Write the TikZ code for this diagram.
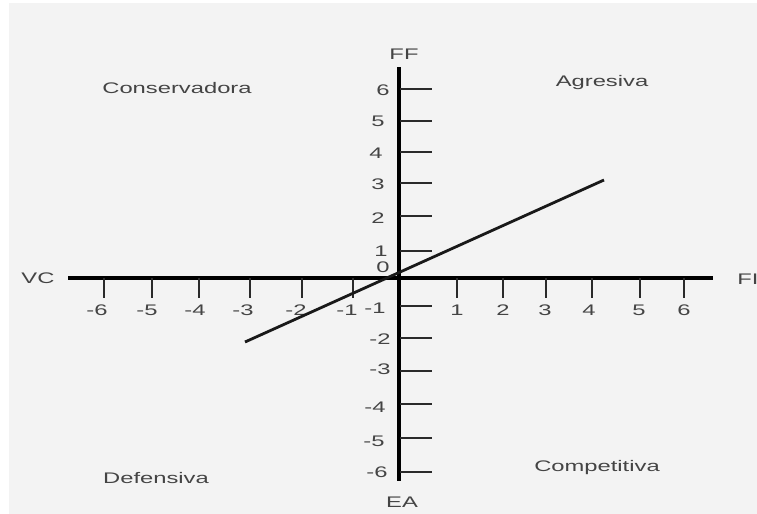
\documentclass[tikz,border=0pt]{standalone}
\usepackage{fontspec}
\usepackage{graphicx}
\setmainfont{Liberation Sans}
\definecolor{bggray}{HTML}{F3F3F3}
\definecolor{txtgray}{HTML}{444444}
\definecolor{tickgray}{HTML}{2A2A2A}
\newcommand\widetext[1]{\scalebox{1.55}[1]{#1}}
\tikzset{
  lbl/.style={inner sep=0pt, text=txtgray, font=\fontsize{11.5pt}{12pt}\selectfont},
  axisline/.style={line width=2.5pt, black},
  vaxisline/.style={line width=3pt, black},
  tickline/.style={line width=1.8pt, tickgray},
  trendline/.style={line width=2.1pt, black!90},
}
\begin{document}
\begin{tikzpicture}[x=0.75pt,y=-0.75pt]
\useasboundingbox (0,0) rectangle (757,514);
\fill[white] (0,0) rectangle (757,514);
\fill[bggray] (9,3) rectangle (757,514);

% axes
\coordinate (xl) at (68,278);
\coordinate (xr) at (713,278);
\coordinate (yt) at (399,67);
\coordinate (yb) at (399,481);
\draw[axisline] (xl) -- (xr);
\draw[vaxisline] (yt) -- (yb);

% horizontal ticks
\foreach \x/\n in {104/m6,152/m5,199/m4,250/m3,302/m2,353/m1,457/p1,503/p2,546/p3,592/p4,640/p5,684/p6}{
  \coordinate (ht\n a) at (\x,278);
  \coordinate (ht\n b) at (\x,298);
  \draw[tickline] (ht\n a) -- (ht\n b);
}
% vertical ticks
\foreach \y/\n in {89/p6,121/p5,152/p4,183/p3,216/p2,251/p1,306/m1,338/m2,371/m3,404/m4,438/m5,472/m6}{
  \coordinate (vt\n a) at (400,\y);
  \coordinate (vt\n b) at (432,\y);
  \draw[tickline] (vt\n a) -- (vt\n b);
}

% horizontal axis labels
\foreach \x/\t/\n in {97/-6/m6,147/-5/m5,195/-4/m4,243/-3/m3,296/-2/m2,347/-1/m1,457/1/p1,503/2/p2,545/3/p3,589/4/p4,639/5/p5,684/6/p6}{
  \node[lbl] (hl\n) at (\x,310) {\widetext{\t}};
}
% vertical axis labels
\foreach \x/\y/\t/\n in {383/90/6/p6,378/121/5/p5,376/153/4/p4,378/184/3/p3,378/218/2/p2,381/251/1/p1,383/267/0/z,375/308/-1/m1,380/339/-2/m2,380/369/-3/m3,375/407/-4/m4,374/441/-5/m5,377/472/-6/m6}{
  \node[lbl] (vl\n) at (\x,\y) {\widetext{\t}};
}

% axis names
\node[lbl] (ff) at (404,54) {\widetext{FF}};
\node[lbl] (ea) at (402,502) {\widetext{EA}};
\node[lbl] (vc) at (38,278) {\widetext{VC}};
\node[lbl,anchor=west] (fi) at (737,279) {\widetext{FI}};

% quadrant names
\node[lbl] (cons) at (177,88) {\widetext{Conservadora}};
\node[lbl] (agr) at (602,83) {\widetext{Agresiva}};
\node[lbl] (def) at (156,478) {\widetext{Defensiva}};
\node[lbl] (comp) at (597,468) {\widetext{Competitiva}};

% trend line
\coordinate (ls) at (245,342);
\coordinate (le) at (604,180);
\draw[trendline] (ls) -- (le);
\end{tikzpicture}
\end{document}
